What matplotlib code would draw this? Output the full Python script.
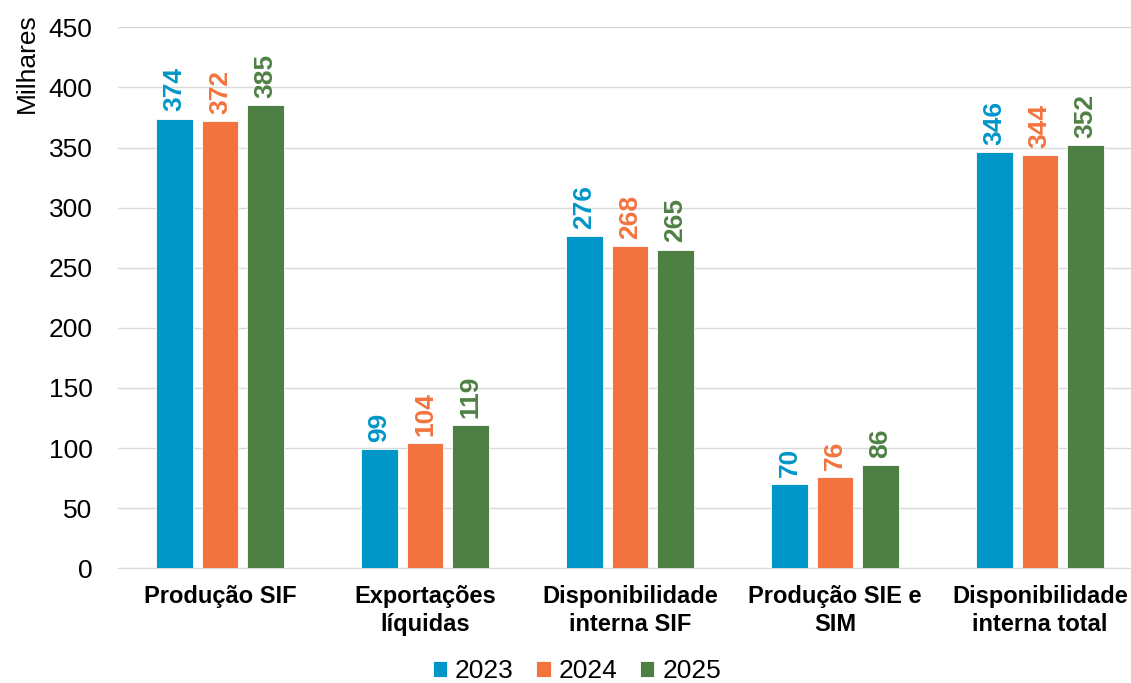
import numpy as np
import matplotlib
matplotlib.use("Agg")
import matplotlib.pyplot as plt

plt.rcParams['font.family'] = ['Liberation Sans', 'DejaVu Sans']

categories = ['Produção SIF', 'Exportações\nlíquidas', 'Disponibilidade\ninterna SIF',
              'Produção SIE e\nSIM', 'Disponibilidade\ninterna total']
years = ['2023', '2024', '2025']
v2023 = [374, 99, 276, 70, 346]
v2024 = [372, 104, 268, 76, 344]
v2025 = [385, 119, 265, 86, 352]
colors = ['#0096C8', '#F2733D', '#4E8043']

fig = plt.figure(figsize=(11.31, 6.83), dpi=100)
ax = fig.add_axes([0.104, 0.168, 0.906, 0.792])

x = np.arange(len(categories))
step = 0.222
width = 0.178
for i, (vals, yr, c) in enumerate(zip([v2023, v2024, v2025], years, colors)):
    pos = x + (i - 1) * step
    ax.bar(pos, vals, width, color=c, label=yr, edgecolor='white', linewidth=0.6, zorder=3)
    for px, v in zip(pos, vals):
        ax.text(px, v + 6, str(v), rotation=90, ha='center', va='bottom',
                color=c, fontsize=19, fontweight='bold')

ax.set_xlim(-0.5, 4.5)
ax.set_ylim(0, 450)
ax.set_yticks(range(0, 451, 50))
ax.tick_params(axis='y', labelsize=19, length=0, pad=18)
ax.set_xticks(x)
ax.set_xticklabels(categories, fontsize=17, fontweight='bold', linespacing=1.3)
ax.tick_params(axis='x', length=0, pad=12)
ax.grid(axis='y', color='#D9D9D9', linewidth=1, zorder=0)
for s in ['top', 'right', 'left']:
    ax.spines[s].set_visible(False)
ax.spines['bottom'].set_color('#D9D9D9')

fig.text(0.024, 0.98, 'Milhares', rotation=90, ha='center', va='top', fontsize=19)

leg = fig.legend(loc='lower center', bbox_to_anchor=(0.51, -0.035), ncol=3, frameon=False,
                 fontsize=19, handlelength=0.55, handleheight=0.55, handletextpad=0.3,
                 columnspacing=0.85)

fig.savefig('out.png', dpi=100)
